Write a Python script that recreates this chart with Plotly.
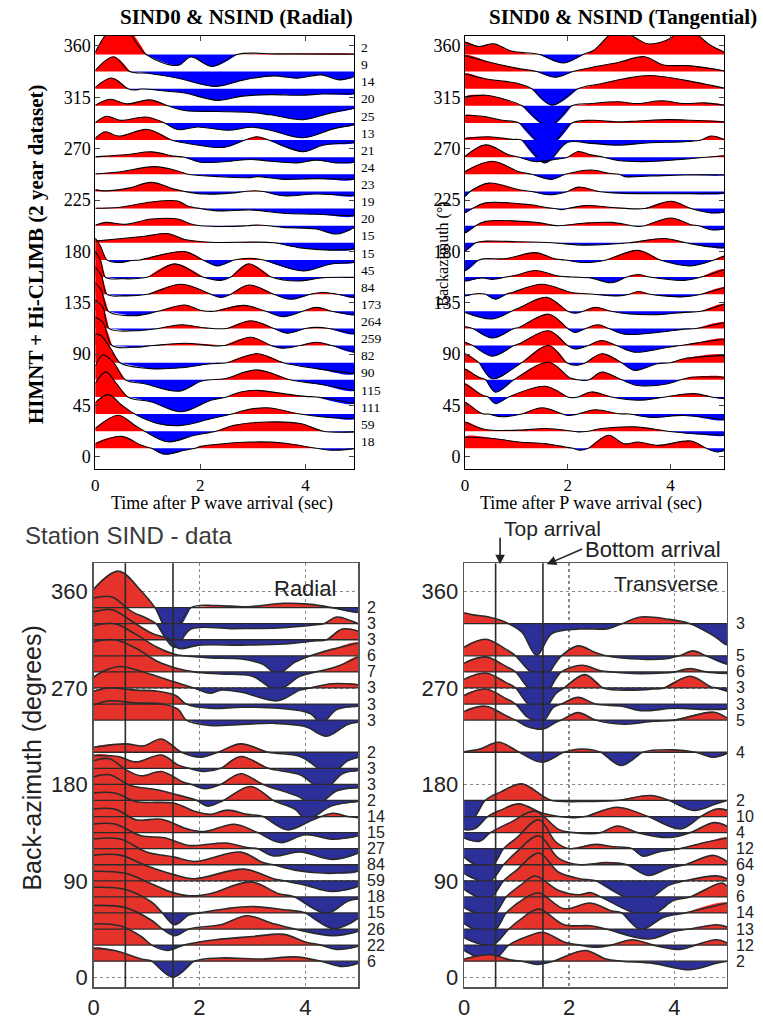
import plotly.graph_objects as go

W, H = 763, 1030

# ============================ DATA ============================
# ---- top-left: SIND0 & NSIND radial (baz bins, stack counts, key points t [s] / amplitude [deg]) ----
TL_BAZ = [352.5, 337.5, 322.5, 307.5, 292.5, 277.5, 262.5, 247.5, 232.5, 217.5, 202.5, 187.5,
          172.5, 157.5, 142.5, 127.5, 112.5, 97.5, 82.5, 67.5, 52.5, 37.5, 22.5, 7.5]
TL_COUNTS = [2, 9, 14, 20, 25, 13, 21, 24, 23, 19, 20, 15, 15, 45, 84, 173, 264, 259, 82, 90, 115, 111, 59, 18]
TL_T = [
    [0, 0.45, 0.97, 1.57, 1.82, 2.23, 2.7, 3.5, 4.93],
    [0, 0.35, 0.66, 1.0, 1.57, 2.3, 2.83, 3.4, 3.84, 4.3, 4.65, 4.93],
    [0, 0.31, 0.62, 0.75, 0.88, 1.38, 1.7, 2.33, 2.77, 3.33, 3.9, 4.34, 4.93],
    [0, 0.28, 0.6, 1.04, 1.38, 1.7, 2.33, 2.96, 3.33, 3.96, 4.47, 4.93],
    [0, 0.22, 0.47, 0.97, 1.32, 1.57, 1.95, 2.52, 2.99, 3.33, 3.96, 4.53, 4.93],
    [0, 0.19, 0.44, 1.0, 1.45, 1.82, 2.45, 2.85, 3.08, 3.3, 3.96, 4.34, 4.93],
    [0, 0.19, 0.63, 1.07, 1.5, 1.7, 2.0, 2.5, 2.96, 3.33, 3.84, 4.21, 4.59, 4.93],
    [0, 0.44, 1.13, 1.57, 1.76, 2.33, 2.96, 3.08, 3.58, 4.21, 4.93],
    [0, 0.2, 0.63, 1.07, 1.5, 1.7, 2.08, 2.58, 2.85, 3.02, 3.2, 3.58, 4.21, 4.93],
    [0, 0.44, 1.07, 1.57, 1.76, 2.0, 2.33, 2.96, 3.58, 4.21, 4.93],
    [0, 0.19, 0.57, 1.07, 1.57, 1.82, 2.0, 2.64, 2.9, 3.08, 3.3, 3.58, 4.21, 4.59, 4.93],
    [0, 0.31, 0.94, 1.38, 1.7, 2.2, 3.0, 3.4, 3.9, 4.47, 4.93],
    [0, 0.1, 0.22, 0.44, 0.7, 0.85, 1.7, 2.05, 2.33, 2.64, 2.96, 3.2, 3.96, 4.47, 4.93],
    [0, 0.1, 0.19, 0.5, 1.0, 1.51, 2.05, 2.39, 2.58, 2.92, 3.35, 3.84, 4.34, 4.93],
    [0, 0.12, 0.22, 0.55, 1.0, 1.64, 2.2, 2.39, 2.58, 2.92, 3.4, 3.71, 4.1, 4.34, 4.6, 4.93],
    [0, 0.12, 0.25, 0.75, 1.2, 1.7, 2.0, 2.26, 2.83, 3.25, 3.58, 3.95, 4.21, 4.5, 4.93],
    [0, 0.15, 0.26, 0.75, 1.2, 1.64, 2.1, 2.5, 2.96, 3.4, 3.65, 4.0, 4.21, 4.45, 4.93],
    [0, 0.15, 0.32, 0.75, 1.1, 1.7, 2.45, 2.96, 3.35, 3.58, 3.9, 4.21, 4.5, 4.93],
    [0, 0.1, 0.3, 0.47, 1.07, 1.64, 2.2, 2.5, 3.08, 3.58, 4.21, 4.93],
    [0, 0.15, 0.35, 0.57, 0.94, 1.6, 2.01, 2.2, 2.45, 3.08, 3.71, 4.21, 4.93],
    [0, 0.2, 0.4, 0.62, 1.07, 1.64, 2.2, 2.5, 2.77, 3.08, 3.58, 4.0, 4.21, 4.93],
    [0, 0.25, 0.5, 0.75, 1.2, 1.64, 2.2, 2.6, 2.83, 3.27, 3.9, 4.34, 4.93],
    [0, 0.44, 0.75, 0.94, 1.38, 1.89, 2.3, 2.64, 3.27, 3.9, 4.34, 4.93],
    [0, 0.5, 0.88, 1.07, 1.32, 1.7, 1.9, 2.01, 2.96, 3.58, 4.21, 4.53, 4.93],
]
TL_A = [
    [2, 28, 0, -9.6, -2.3, -10.5, 0, 0.5, 0.3],
    [1, 13, 0, -1.5, -5.8, -13, -7.3, -3.8, -5.8, -2.9, -7.3, -4.4],
    [1, 9.3, 0, -1.2, -0.3, -2.3, -3.8, -10.2, -6.7, -5.2, -5.8, -4.7, -4.4],
    [0.5, 5.8, 1.7, 5.2, 0, -4.1, -5, -5.8, -7.9, -12.2, -6.4, -2.1],
    [0.3, 5.8, 2.3, 5.2, 0, -5.8, -3.5, -6.4, -3.8, -6.4, -13, -5.2, -1.5],
    [1.5, 7.3, 3.5, 9.3, 0, -3.5, -6.4, 0, 2.9, 0, -10.2, -4.4, -2.3],
    [0.3, 0.9, 2.3, 4.7, 0.9, 0, -4.4, -3.8, -2, -3.5, -5, -2.6, -5, -4.4],
    [0.3, 2, 6.7, 2.9, 0, -2, -2.9, -2, -4.4, -3.8, -4.4],
    [1.4, 0.5, 2.9, 7.9, 2, 0, -2.3, -1.5, 0, 0.6, 0, -3.8, -2.3, -3.8],
    [0.3, 1, 5.8, 6.7, 2.3, 0, -2, -1.2, -4.1, -5, -6.4],
    [0.3, 2.9, 1.2, 5.8, 5.8, 1.5, 0, -0.6, 0, 0.6, 0, -1.5, -2.9, -7.3, -1.5],
    [1.5, 2.9, 5.8, 8.1, 2.9, 0.5, 0.6, 0, -4.4, -6.4, -5.5],
    [19, 12, 0, -2.3, -0.5, 0, 7.3, 0, -5.2, 0, 1.5, 0, -9.6, -3.8, -2.3],
    [22, 15, 0, -1.5, 0, 11.6, 0, -2.9, 0, 11.6, 0, -3.5, -0.6, -0.3],
    [24, 16, 0, -1.5, 0, 8.7, 0, -2.9, 0, 8.1, 0, -4.4, 0, 1.5, 0, -2.9],
    [25, 18, 0, -3.8, 0, 5.5, 1, 0, 5.2, 0, -4.7, 0, 3.5, 0, -3.2],
    [25, 18, 0, -2, 0, 3.2, 0.5, 0, 6.7, 0, -4.1, 0, 0.9, 0, -4.9],
    [25, 20, 0, -1.5, 0, 2, 0, 7.3, 0, -2.3, 0, 2.9, 0, -5.8],
    [25, 24, 12, 0, -5.2, -4.4, -0.9, 0, 7.9, 0, -5.2, -9.6],
    [12, 22, 15, 0, -3.5, -9.9, -1.2, 0, 0.9, 8.7, 0, -3.5, -9.3],
    [12, 22, 12, 0, -4.4, -13, -2.9, 0, 4.4, 5.8, 2.9, 0.5, 0, -5.8],
    [10, 17, 8, 0, -8.4, -9.9, -4.1, 0, 3.2, 5.5, 0, -2.6, -4.1],
    [2.3, 14, 5.2, 0, -9.3, -3.5, 0, 5.2, 8.1, 6.7, 0, -0.6],
    [4, 10.5, 2.6, 0, -5.2, -1.7, 0, 1.7, 5.5, 4.7, 0, -1.7, -0.3],
]

# ---- top-right: SIND0 & NSIND tangential ----
TR_BAZ = TL_BAZ
TR_T = [
    [0, 0.27, 0.56, 0.9, 1.45, 1.92, 2.3, 2.5, 2.98, 3.3, 3.56, 3.9, 4.34, 4.75, 5.05],
    [0, 0.5, 1.0, 1.4, 1.75, 2.1, 2.5, 2.98, 3.5, 3.85, 4.4, 5.05],
    [0, 0.4, 1.05, 1.3, 1.69, 2.2, 2.65, 3.1, 3.6, 4.3, 4.8, 5.05],
    [0, 0.4, 0.72, 1.11, 1.63, 2.08, 2.46, 2.98, 3.37, 3.82, 4.27, 4.66, 5.05],
    [0, 0.34, 0.72, 1.05, 1.59, 2.08, 2.46, 2.98, 3.37, 3.95, 4.4, 5.05],
    [0, 0.46, 0.92, 1.1, 1.56, 2.0, 2.46, 2.98, 3.6, 4.27, 4.6, 4.79, 5.05],
    [0, 0.4, 0.85, 1.05, 1.36, 1.75, 2.0, 2.2, 2.45, 2.7, 2.98, 3.6, 4.27, 4.7, 5.05],
    [0, 0.53, 1.05, 1.3, 1.69, 1.95, 2.46, 2.8, 3.0, 3.11, 3.6, 4.27, 5.05],
    [0, 0.1, 0.46, 1.05, 1.3, 1.63, 2.0, 2.2, 2.6, 3.0, 4.0, 5.05],
    [0, 0.14, 0.4, 1.24, 1.63, 1.75, 1.88, 2.0, 2.34, 2.98, 3.5, 4.01, 4.4, 4.79, 5.05],
    [0, 0.21, 0.4, 1.37, 1.82, 2.34, 2.85, 3.25, 3.37, 3.5, 4.01, 4.4, 4.55, 4.79, 5.05],
    [0, 0.21, 0.4, 1.0, 1.7, 2.34, 3.2, 3.88, 4.3, 4.66, 5.05],
    [0, 0.27, 0.8, 1.37, 1.75, 1.95, 2.34, 2.75, 3.37, 3.8, 4.4, 4.85, 5.05],
    [0, 0.34, 0.53, 0.8, 1.05, 1.37, 1.82, 2.1, 2.46, 2.85, 3.15, 3.37, 3.6, 4.27, 4.6, 5.05],
    [0, 0.15, 0.27, 0.4, 0.59, 0.8, 0.92, 1.5, 2.08, 2.5, 2.98, 3.2, 3.37, 3.6, 3.88, 4.27, 4.6, 5.05],
    [0, 0.53, 0.9, 1.05, 1.59, 2.0, 2.14, 2.3, 2.53, 2.85, 3.2, 3.75, 4.27, 4.6, 5.05],
    [0, 0.15, 0.53, 0.95, 1.05, 1.63, 2.0, 2.14, 2.35, 2.59, 2.8, 3.11, 3.75, 4.27, 4.5, 5.05],
    [0, 0.15, 0.53, 0.95, 1.05, 1.63, 2.0, 2.14, 2.4, 2.66, 2.95, 3.3, 3.95, 4.2, 4.4, 5.05],
    [0, 0.27, 0.53, 1.1, 1.63, 1.98, 2.15, 2.35, 2.66, 3.05, 3.3, 3.75, 4.0, 4.27, 5.05],
    [0, 0.27, 0.4, 0.59, 0.95, 1.63, 2.05, 2.2, 2.3, 2.42, 2.66, 3.05, 3.37, 3.95, 4.2, 4.4, 5.05],
    [0, 0.34, 0.45, 0.59, 0.85, 1.56, 2.0, 2.08, 2.2, 2.46, 2.85, 3.37, 3.9, 4.46, 4.8, 5.05],
    [0, 0.34, 0.45, 0.72, 1.1, 1.5, 1.9, 2.01, 2.2, 2.53, 3.0, 3.2, 3.63, 4.27, 5.05],
    [0, 0.4, 1.05, 1.56, 2.1, 2.2, 2.4, 2.66, 3.3, 3.95, 4.4, 5.05],
    [0, 0.59, 1.05, 1.56, 1.95, 2.1, 2.24, 2.4, 2.79, 3.1, 3.37, 3.75, 4.4, 4.7, 4.92, 5.05],
]
TR_A = [
    [10.8, 7, 9.3, 3, 0, -7.5, 0, 3.5, 22, 15, 9.3, 12, 22, 9, 2],
    [14, 8, 3, 0, -5, 0, 4, 8, 13, 6, 5, 0.5],
    [13, 8.7, 4.4, 0, -14.5, 0, 4.4, 8.7, 11.6, 7.3, 2.9, 0.5],
    [7.9, 9.3, 6.4, 0, -18.3, 0, 2, 3.5, 2, 4.4, 2, 2.6, 0.6],
    [6.7, 5.8, 2.3, 0, -21, 0, 2.3, 0.9, 1.7, 2.9, 2.3, 0.9],
    [1.5, 2.9, 0.6, 0, -20, -2, -2.9, -4.4, -2.3, -1.5, 0, 3.5, 0.5],
    [0.6, 10.8, 2.1, 0, -3.8, -2, 0, 5, 2, 0, -2.9, -3.8, -1.7, 0, 1.2],
    [2.3, 11.4, 2.3, 0, -4.4, 0, 3.8, 0.9, 0, -2, -1.5, -0.6, -0.6],
    [-4.4, 0, 7.3, 1.5, 0, -2.9, 0, 3.8, 0, -1.5, -2, -1.5],
    [-3.8, 0, 5, 3.5, 0.6, 0, -0.9, 0, 2.6, 0.6, 0, 6.4, 0, -3.8, -3.2],
    [-6.4, 0, 3.8, 2.9, 0, 2.3, 2.9, 0, -0.6, 0, 6.7, 0.9, 0, -3.5, -2.9],
    [-7.3, 0, 1.5, 1, 0, -2, 0, 3.8, 0, -2.9, -4.4],
    [-9.6, 0, 1.2, 6.4, 1, 0, -2.3, 0, 8.4, 0, -5.2, 0, 3.5],
    [-3.5, -0.8, -2, 0, 2.3, 5.8, 0.9, 0, -0.9, -5, 0, 2.3, 0, -2.9, 0, 6.7],
    [-1.5, 0, 0.6, 0, -4.4, 0, 1.5, 8.7, 1.5, 0, -1.5, 0, 2.3, 0, -1.5, -2.3, 0, 5.8],
    [-0.9, -6.7, 0, 2.9, 12.2, 0, -1.7, 0, 3.5, 0, -2.3, -2.9, -0.9, 0, 6.4],
    [1.5, 0, -8.4, 0, 0.9, 12.5, 0, -3.5, 0, 3.2, 0, -5, -3.5, -0.6, 0, 5.2],
    [2.9, 0, -9.3, 0, 1.5, 13, 0, -2.9, 0, 4.4, 0, -5.8, -1.5, 0, 1.5, 5.8],
    [7.9, 0, -14, 0, 15, 0, -2.3, 0, 7.9, 0, -6.7, -0.9, 0, 3.5, 6.4],
    [9.6, 2.3, 0, -10.8, 0, 15.4, 1.5, 0, -0.5, 0, 6.7, 0, -5, -3.5, 0, 2.3, 2.3],
    [11.6, 1.5, 0, -5.8, 0, 9.3, 0, -0.6, 0, 4.4, 0, -2.9, 0, 2.9, 0, -1.5],
    [10.5, 0.3, 0, -2.3, 0, 5.5, 0, -1.2, 0, 3.8, 0.3, 0, -2.9, -1.2, -5],
    [8.1, 1.5, 0.9, 2.3, 0, -0.6, 0, 2.3, 3.8, 0, -2, -3.5],
    [9.9, 8.4, 5.5, 4.1, 1.2, 0, -1.7, 0, 11.4, 4, 5.5, 2.6, 6.4, 0, -3.2, -2],
]

# ---- bottom-left: Station SIND data, radial ----
BL_BAZ = [345, 330, 315, 300, 285, 270, 255, 240, 210, 195, 180, 165, 150, 135, 120, 105, 90, 75, 60, 45, 30, 15]
BL_COUNTS = [2, 3, 3, 6, 7, 3, 3, 3, 2, 3, 3, 2, 14, 15, 27, 84, 59, 18, 15, 26, 22, 6]
BL_T = [
    [0, 0.47, 0.9, 1.16, 1.47, 1.84, 2.3, 2.9, 3.6, 4.1, 4.5, 5.0],
    [0, 0.35, 0.7, 1.0, 1.18, 1.53, 1.84, 2.6, 3.5, 4.2, 4.35, 4.6, 4.85, 5.0],
    [0, 0.35, 0.7, 1.1, 1.45, 1.6, 2.0, 2.8, 3.6, 4.2, 4.4, 4.7, 5.0],
    [0, 0.4, 0.8, 1.2, 1.5, 1.7, 2.2, 2.8, 3.2, 3.47, 3.8, 4.1, 4.5, 5.0],
    [0, 0.4, 0.8, 1.2, 1.6, 1.9, 2.4, 3.0, 3.47, 3.9, 4.2, 4.6, 5.0],
    [0, 0.2, 0.5, 1.0, 1.5, 1.9, 2.2, 2.4, 2.8, 3.47, 3.9, 4.1, 4.5, 5.0],
    [0, 0.3, 0.8, 1.2, 1.55, 1.75, 2.2, 2.8, 3.5, 4.1, 4.3, 4.6, 5.0],
    [0, 0.3, 0.8, 1.3, 1.6, 1.75, 2.2, 2.8, 3.4, 4.0, 4.4, 4.8, 5.0],
    [0, 0.6, 0.95, 1.28, 1.66, 2.03, 2.35, 2.78, 3.3, 3.9, 4.47, 4.8, 5.0],
    [0, 0.47, 0.8, 1.28, 1.6, 1.8, 2.1, 2.4, 2.78, 3.3, 3.9, 4.35, 4.7, 5.0],
    [0, 0.3, 0.6, 0.9, 1.28, 1.7, 1.85, 2.1, 2.4, 2.78, 3.2, 3.9, 4.16, 4.6, 5.0],
    [0, 0.3, 0.7, 1.2, 1.6, 1.95, 2.16, 2.45, 2.97, 3.4, 3.8, 4.03, 4.5, 5.0],
    [0, 0.4, 0.8, 1.53, 1.9, 2.2, 2.53, 2.9, 3.2, 3.66, 4.1, 4.3, 4.53, 4.8, 5.0],
    [0, 0.4, 0.8, 1.28, 1.8, 2.1, 2.66, 3.1, 3.53, 4.0, 4.53, 5.0],
    [0, 0.4, 0.9, 1.34, 1.8, 2.5, 2.9, 3.1, 3.4, 3.9, 4.53, 5.0],
    [0, 0.5, 1.0, 1.53, 1.9, 2.78, 3.2, 3.4, 3.8, 4.4, 5.0],
    [0, 0.5, 1.0, 1.5, 1.9, 2.84, 3.4, 3.6, 4.0, 4.5, 5.0],
    [0, 0.6, 1.1, 1.5, 1.8, 2.2, 2.97, 3.5, 3.8, 4.4, 4.8, 5.0],
    [0, 0.6, 1.1, 1.3, 1.53, 1.8, 2.0, 2.5, 3.0, 3.6, 4.0, 4.53, 5.0],
    [0, 0.6, 1.1, 1.3, 1.53, 1.8, 2.4, 2.9, 3.4, 3.8, 4.53, 5.0],
    [0, 0.5, 0.9, 1.1, 1.4, 1.7, 2.3, 3.0, 3.6, 4.0, 4.3, 4.6, 5.0],
    [0, 0.4, 0.9, 1.1, 1.5, 1.9, 2.4, 3.2, 3.8, 4.3, 4.7, 5.0],
]
BL_A = [
    [17, 34, 15.5, 0, -26, 0, 2, 0.8, 4, 3, 0, -4.6],
    [24, 25, 12, 5, 0, -22, -5, -4.6, -4, -1, 0, 6.2, 3, 0],
    [26, 28, 18, 6, 0, -8, -5, -5, -4, -1, 0, 10, 8],
    [28, 30, 20, 8, 2, 0, -2, -3, -8, -17, -6, 0, 6, 12],
    [28, 30, 22, 10, 3, 0, -2, -4, -17, -4, 0, 5, 14],
    [10, 16, 20, 14, 6, 0, -5, -2, -4, -12, -2, 0, 4, 3],
    [12, 15, 13, 12, 8, 0, -4, -3, -4, -9, -18, -5, -2],
    [14, 18, 16, 15, 10, 0, -5, -4, -3, -6, -15, -4, -2],
    [4.6, 7.8, 6, 12.4, 0, -4.6, 0, 7.8, 0, -4, -20, -8, -4.6],
    [12, 11, 6, 12.4, 3, 0, -3, 0, 11, 0, -6, -20, -5, -2],
    [22, 24, 14, 8, 12, 2, 0, -4, 0, 10, 0, -12, -21, -6, -3],
    [22, 24, 14, 10, 5, 0, -5.3, 0, 13, 0, -8, -17.7, -5, -1],
    [22, 22, 14, 12.4, 5, 2, 6, 2, 0, -12.4, -4, 0, 3, 0, -1],
    [22, 22, 12, 12.4, 3, 1, 7.8, 0, -9.3, -2, -6.2, -3],
    [23, 23, 12, 10.2, 3, 5.3, 1, 0, -6.8, -3, -10, -4],
    [24, 24, 12, 7.1, 3, 11.8, 2, 0, -5, -8, -6],
    [24, 24, 14, 6, 2, 10.9, 2, 0, -4, -10, -5],
    [24, 22, 12, 4, 1, 3, 14, 3, 0, -15.5, -4, -2],
    [24, 22, 10, 0, -11, -2, 0, 4, 6, 3, 0, -14.6, -5],
    [22, 20, 8, 0, -6.2, 0, 4, 12.4, 5, 0, -6.2, -2],
    [20, 18, 8, 0, -5, 0, 5, 8, 10, 3, 0, -4, -1],
    [12, 10, 2, 0, -15, 0, 3, 2, 4, 0, -5, -2],
]

# ---- bottom-right: Station SIND data, transverse ----
BR_BAZ = [330, 300, 285, 270, 255, 240, 210, 165, 150, 135, 120, 105, 90, 75, 60, 45, 30, 15]
BR_COUNTS = [3, 5, 6, 3, 3, 5, 4, 2, 10, 4, 12, 64, 9, 6, 14, 13, 12, 2]
BR_T = [
    [0, 0.2, 0.47, 0.85, 1.1, 1.38, 1.67, 2.2, 2.74, 3.0, 3.36, 3.9, 4.3, 4.7, 5.0],
    [0, 0.41, 0.8, 0.98, 1.2, 1.48, 1.75, 1.85, 2.17, 2.5, 2.7, 3.0, 3.8, 4.1, 4.35, 4.6, 5.0],
    [0, 0.41, 0.8, 0.98, 1.2, 1.48, 1.75, 1.85, 2.24, 2.6, 2.8, 3.2, 3.8, 4.0, 4.3, 4.6, 5.0],
    [0, 0.41, 0.8, 0.98, 1.2, 1.48, 1.75, 1.9, 2.3, 2.65, 3.2, 3.6, 3.8, 4.3, 4.7, 4.8, 5.0],
    [0, 0.41, 0.8, 0.98, 1.2, 1.48, 1.7, 1.85, 2.17, 2.5, 3.0, 3.36, 4.0, 4.6, 5.0],
    [0, 0.41, 0.8, 0.98, 1.2, 1.5, 1.75, 1.85, 2.17, 2.5, 3.05, 3.6, 4.0, 4.75, 5.0],
    [0, 0.3, 0.66, 1.05, 1.48, 1.9, 2.23, 2.6, 2.99, 3.4, 3.99, 4.4, 4.75, 5.0],
    [0, 0.16, 0.4, 0.7, 1.1, 1.5, 1.67, 2.2, 2.9, 3.55, 3.9, 4.37, 4.8, 5.0],
    [0, 0.2, 0.45, 0.7, 1.04, 1.5, 1.8, 2.1, 2.3, 2.92, 3.5, 4.12, 4.5, 4.8, 5.0],
    [0, 0.3, 0.5, 0.9, 1.35, 1.8, 2.1, 2.4, 2.6, 2.92, 3.3, 3.9, 4.3, 4.75, 5.0],
    [0, 0.47, 0.75, 1.0, 1.42, 1.75, 2.0, 2.5, 2.8, 3.2, 3.4, 3.7, 4.1, 4.6, 5.0],
    [0, 0.47, 0.75, 1.0, 1.42, 1.8, 2.2, 2.7, 3.1, 3.5, 3.9, 4.2, 4.75, 5.0],
    [0, 0.47, 0.75, 1.0, 1.42, 1.8, 2.2, 2.5, 3.37, 3.9, 4.2, 4.8, 5.0],
    [0, 0.53, 0.8, 1.1, 1.35, 1.8, 2.2, 2.4, 2.6, 3.5, 4.0, 4.3, 4.9, 5.0],
    [0, 0.53, 0.8, 1.1, 1.42, 1.9, 2.4, 2.8, 3.0, 3.36, 3.8, 4.2, 5.0],
    [0, 0.53, 0.85, 1.1, 1.42, 1.9, 2.4, 2.7, 3.5, 4.0, 4.3, 4.8, 5.0],
    [0, 0.55, 0.85, 1.2, 1.5, 1.9, 2.2, 2.5, 2.8, 3.2, 3.6, 4.1, 4.4, 4.8, 5.0],
    [0, 0.5, 0.9, 1.1, 1.4, 1.7, 2.3, 2.7, 3.0, 3.6, 4.3, 4.8, 5.0],
]
BR_A = [
    [10, 8, 6.2, 0, -8, -29.5, -9.3, -5, -4.6, 0, 6.2, 4, 0, -10, -20],
    [8, 15.5, 6, 0, -12, -23, -6, 0, 9.3, 3, 0, -2, -3, 0, 4.6, 0, -7.8],
    [8, 14, 5, 0, -14, -25, -6, 0, 6.2, 1, 0, -1.5, -1, 0, 3, 0, -1.5],
    [8, 14, 5, 0, -14, -22, -5, 0, 12.4, 0, -2, -1, 0, 10.9, 1, 0, -3],
    [8, 14, 5, 0, -12, -17, -3, 0, 6.2, 0, -2, -6.2, -4, -5, -4.6],
    [8, 13, 4, 0, -6, -8.4, -2, 0, 7, 0, -3.8, -1, 0, 7.4, 2],
    [0.5, 3, 9.3, 0, -9.3, 0, 3.1, 0, -12.4, 0, 2.2, 0, -4.6, -1],
    [-20, -18, 0, 8, 15.5, 4, 0, -1, 0, 4.6, 0, -9.3, -3, 0],
    [-12, -11.5, 0, 6, 11.8, 3, 0, -1, 0, 8.7, 0, -11.5, 0, 7, 6],
    [-5, -8, 0, 10, 20, 3, 0, -1, 0, 6.2, 0, -4.6, 0, 9.3, 6],
    [-8, -19, 0, 10, 27, 6, 0, 4, 2, 0, -7, -3, 0, 6, 10],
    [-8, -16, 0, 12, 27, 6, 0, 2, 0, -10, -3, 0, 8.7, 3],
    [-8, -17, 0, 10, 26, 8, 2, 0, -20, -4, 0, 4.6, 2],
    [-10, -17.7, 0, 12, 19.5, 6, 2, 4, 0, -17.7, -3, 0, 13, 10],
    [-10, -18.6, 0, 12, 18.6, 4, 9.3, 2, 0, -15.5, -4, 0, 9.3],
    [-8, -15, 0, 10, 18.6, 4, 3, 0, -9.3, -2, 0, 4, 2],
    [-5, -14, 0, 8, 12, 3, 0, -2, 0, 5, 0, -4, 0, 5, 2],
    [2, 6, 1, 0, -3, 0, 10, 2, 0, -2, -8, -2, 0],
]

ARRIVALS = [0.6, 1.5]        # "Top arrival", "Bottom arrival" marker times (s)
TIME_TICKS = [0, 2, 4]
TOP_BAZ_TICKS = [0, 45, 90, 135, 180, 225, 270, 315, 360]
BOT_BAZ_TICKS = [0, 90, 180, 270, 360]

# ============================ STYLE ============================
SERIF = "Liberation Serif"
SANS = "Liberation Sans"
RED_T, BLUE_T = "#ff0000", "#0000ff"
RED_B, BLUE_B = "#e5332b", "#2c2f98"


def px_x(p):
    return p / W


def px_y(p):
    return 1 - p / H


def split_lobes(ts, am, b):
    out = {1: ([], []), -1: ([], [])}
    state = {"seg": [], "start": ts[0], "sign": 0}

    def flush(end_t):
        seg = state["seg"]
        if seg:
            xs, ys = out[state["sign"]]
            xs.extend([state["start"]] + [p[0] for p in seg] + [end_t, None])
            ys.extend([b] + [b + p[1] for p in seg] + [b, None])

    for t, a in zip(ts, am):
        s = (a > 0) - (a < 0)
        if s == 0:
            flush(t)
            state.update(seg=[], start=t, sign=0)
            continue
        if state["sign"] != 0 and s != state["sign"]:
            prev_t = state["seg"][-1][0]
            flush(prev_t)
            state.update(seg=[], start=prev_t, sign=0)
        state["sign"] = s
        state["seg"].append((t, a))
    flush(ts[-1])
    return out


fig = go.Figure()


def add_panel(xa, ya, baz, T, A, red, blue, lw, lc):
    for b, ts, am in zip(baz, T, A):
        n = min(len(ts), len(am))
        ts, am = ts[:n], am[:n]
        lob = split_lobes(ts, am, b)
        for sgn, col in ((1, red), (-1, blue)):
            xs, ys = lob[sgn]
            if xs:
                fig.add_trace(go.Scatter(x=xs, y=ys, xaxis=xa, yaxis=ya, mode="lines",
                                         line=dict(width=0, shape="spline", smoothing=1),
                                         fill="toself", fillcolor=col, hoverinfo="skip"))
        fig.add_trace(go.Scatter(x=ts, y=[b + a for a in am], xaxis=xa, yaxis=ya, mode="lines",
                                 line=dict(color=lc, width=lw, shape="spline", smoothing=1),
                                 hoverinfo="skip"))


add_panel("x", "y", TL_BAZ, TL_T, TL_A, RED_T, BLUE_T, 1.1, "black")
add_panel("x2", "y2", TR_BAZ, TR_T, TR_A, RED_T, BLUE_T, 1.1, "black")
add_panel("x3", "y3", BL_BAZ, BL_T, BL_A, RED_B, BLUE_B, 1.6, "#2a2a2a")
add_panel("x4", "y4", BR_BAZ, BR_T, BR_A, RED_B, BLUE_B, 1.6, "#2a2a2a")

# baselines on the data panels
for xa, ya, baz in (("x3", "y3", BL_BAZ), ("x4", "y4", BR_BAZ)):
    xs, ys = [], []
    for b in baz:
        xs += [0, 5, None]
        ys += [b, b, None]
    fig.add_trace(go.Scatter(x=xs, y=ys, xaxis=xa, yaxis=ya, mode="lines",
                             line=dict(color="#2a2a2a", width=1.3), hoverinfo="skip"))

# arrival lines
for xr, yr in (("x3", "y3 domain"), ("x4", "y4 domain")):
    for ta in ARRIVALS:
        fig.add_shape(type="line", xref=xr, yref=yr, x0=ta, x1=ta, y0=0, y1=1,
                      line=dict(color="#2a2a2a", width=1.6), layer="above")

# ============================ AXES ============================
top_x = dict(tickvals=TIME_TICKS, ticks="inside", ticklen=5, tickwidth=1, mirror="ticks",
             showline=True, linecolor="black", linewidth=1, showgrid=False, zeroline=False,
             tickfont=dict(family=SERIF, size=17, color="black"))
top_y = dict(tickvals=TOP_BAZ_TICKS, ticks="inside", ticklen=5, tickwidth=1, mirror="ticks",
             showline=True, linecolor="black", linewidth=1, showgrid=False, zeroline=False,
             tickfont=dict(family=SERIF, size=18, color="black"))
bot_x = dict(tickvals=TIME_TICKS, ticks="", showline=True, mirror=True, linecolor="#555",
             linewidth=1.5, showgrid=True, gridcolor="#8a8a8a", griddash="dot", gridwidth=1.5,
             zeroline=False, tickfont=dict(family=SANS, size=22, color="#222"))
bot_y = dict(tickvals=BOT_BAZ_TICKS, ticks="", showline=True, mirror=True, linecolor="#555",
             linewidth=1.5, showgrid=True, gridcolor="#8a8a8a", griddash="dot", gridwidth=1.5,
             zeroline=False, tickfont=dict(family=SANS, size=22, color="#222"))

fig.update_layout(
    width=W, height=H, margin=dict(l=0, r=0, t=0, b=0),
    paper_bgcolor="white", plot_bgcolor="white", showlegend=False, hovermode=False,
    xaxis=dict(top_x, domain=[px_x(90), px_x(351)], range=[0, 4.93], anchor="y"),
    yaxis=dict(top_y, domain=[px_y(470.7), px_y(35.7)], range=[-10.9, 369], anchor="x"),
    xaxis2=dict(top_x, domain=[px_x(462.7), px_x(724)], range=[0, 5.05], anchor="y2"),
    yaxis2=dict(top_y, domain=[px_y(470.7), px_y(35.7)], range=[-10.9, 369], anchor="x2"),
    xaxis3=dict(bot_x, domain=[px_x(88.3), px_x(355)], range=[0, 5], anchor="y3"),
    yaxis3=dict(bot_y, domain=[px_y(990), px_y(565)], range=[-9.2, 386.3], anchor="x3"),
    xaxis4=dict(bot_x, domain=[px_x(461.7), px_x(726.7)], range=[0, 5], anchor="y4"),
    yaxis4=dict(bot_y, domain=[px_y(990), px_y(565)], range=[-9.2, 386.3], anchor="x4"),
)

# ============================ TEXT ============================
ann = []


def txt(x, y, s, size, family, color="black", xanchor="center", yanchor="middle", angle=0, **kw):
    d = dict(x=x, y=y, text=s, showarrow=False, xanchor=xanchor, yanchor=yanchor, textangle=angle,
             font=dict(size=size, family=family, color=color), borderpad=0)
    d.update(kw)
    if "xref" not in d:
        d["xref"] = "paper"
    if "yref" not in d:
        d["yref"] = "paper"
    ann.append(d)


txt(px_x(232), px_y(17), "<b>SIND0 &amp; NSIND (Radial)</b>", 21, SERIF)
txt(px_x(622), px_y(17), "<b>SIND0 &amp; NSIND (Tangential)</b>", 21, SERIF)
txt(px_x(30), px_y(255), "<b>HIMNT + Hi-CLIMB (2 year dataset)</b>", 21, SERIF, angle=-90)
txt(px_x(441), px_y(255), "Backazimuth (°)", 16, SERIF, angle=-90)
txt(px_x(218), px_y(505), "Time after P wave arrival (sec)", 18, SERIF)
txt(px_x(590), px_y(505), "Time after P wave arrival (sec)", 18, SERIF)

for b, c in zip(TL_BAZ, TL_COUNTS):
    txt(1.023, b + 6, str(c), 13.5, SERIF, xanchor="left", xref="x domain", yref="y")
for b, c in zip(BL_BAZ, BL_COUNTS):
    txt(1.03, b, str(c), 16, SANS, color="#222", xanchor="left", xref="x3 domain", yref="y3")
for b, c in zip(BR_BAZ, BR_COUNTS):
    txt(1.03, b, str(c), 16, SANS, color="#222", xanchor="left", xref="x4 domain", yref="y4")

txt(px_x(18), px_y(537), "Station SIND - data", 24, SANS, color="#3a3a3a", xanchor="left")
txt(px_x(26), px_y(760), "Back-azimuth (degrees)", 25, SANS, color="#222", angle=-90)
txt(px_x(334), px_y(590), "Radial", 22, SANS, color="#222", xanchor="right")
txt(px_x(719), px_y(585), "Transverse", 21, SANS, color="#222", xanchor="right")
txt(px_x(501), px_y(530), "Top arrival", 21, SANS, color="#222", xanchor="left")
txt(px_x(583), px_y(551), "Bottom arrival", 22, SANS, color="#222", xanchor="left")

# arrows
ann.append(dict(x=px_x(498), y=px_y(566), xref="paper", yref="paper", ax=0, ay=-28, text="",
                showarrow=True, arrowhead=2, arrowsize=1.2, arrowwidth=1.6, arrowcolor="#222"))
ann.append(dict(x=px_x(545), y=px_y(566), xref="paper", yref="paper", ax=37, ay=-16, text="",
                showarrow=True, arrowhead=2, arrowsize=1.2, arrowwidth=1.6, arrowcolor="#222"))

fig.update_layout(annotations=ann)
fig.write_html("out.html", config={"displayModeBar": False, "staticPlot": True},
               post_script="document.body.style.margin='0';document.body.style.overflow='hidden';")
